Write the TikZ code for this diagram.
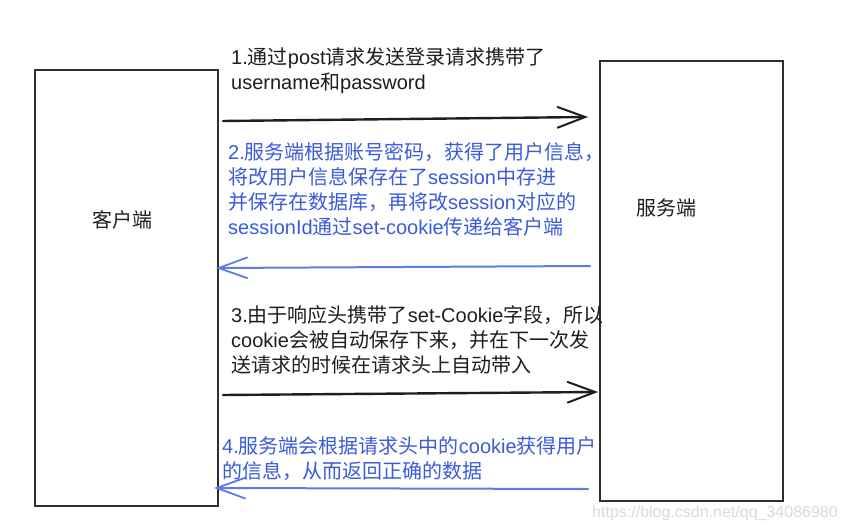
\documentclass[tikz,border=0pt]{standalone}
\usepackage{fontspec}
\setmainfont{Liberation Sans}
\newfontfamily\cjk{Noto Sans CJK SC}
\usetikzlibrary{arrows.meta}
\newcommand\zh[1]{{\cjk #1}}
\definecolor{ink}{HTML}{1E1E1E}
\definecolor{boxline}{HTML}{2E2E2E}
\definecolor{textblue}{HTML}{3B5BDB}
\definecolor{arrowblue}{HTML}{5C7CE6}
\definecolor{wmark}{HTML}{DADADA}
\tikzset{
  box/.style={draw=boxline, line width=1.7pt, inner sep=0pt},
  lbl/.style={font=\fontsize{20}{25}\selectfont\cjk, text=ink, inner sep=0pt},
  txt/.style={anchor=north west, inner sep=0pt, align=left, font=\fontsize{20}{25}\selectfont},
  blackarr/.style={draw=ink, line width=2.4pt, line cap=round,
    -{Straight Barb[length=28pt,width=21pt,line width=2pt]}},
  bluearr/.style={draw=arrowblue, line width=2pt, line cap=round,
    -{Straight Barb[length=29pt,width=21pt,line width=1.8pt]}},
}
\begin{document}
\begin{tikzpicture}[x=1pt,y=-1pt]
\useasboundingbox (0,0) rectangle (846,532);
\fill[white] (0,0) rectangle (846,532);

% boxes
\node[box, minimum width=183pt, minimum height=436pt] (client) at (126.5,288) {};
\node[box, minimum width=183pt, minimum height=440pt] (server) at (691.5,281) {};
\node[lbl] (clientlbl) at (122,220) {客户端};
\node[lbl] (serverlbl) at (666,208) {服务端};

% arrow end points
\coordinate (a1s) at (223,121);
\coordinate (a1e) at (588,117);
\coordinate (a2s) at (590,266);
\coordinate (a2e) at (216,268);
\coordinate (a3s) at (223,395);
\coordinate (a3e) at (598,392);
\coordinate (a4s) at (588,489);
\coordinate (a4e) at (214,488);

\draw[blackarr] (a1s) -- (a1e);
\draw[bluearr] (a2s) -- (a2e);
\draw[blackarr] (a3s) -- (a3e);
\draw[bluearr] (a4s) -- (a4e);

% texts
\node[txt, text=ink] (t1) at (231,46) {\rule{0pt}{18pt}1.\zh{通过}post\zh{请求发送登录请求携带了}\\
username\zh{和}password};

\node[txt, text=textblue] (t2) at (228,141) {\rule{0pt}{18pt}2.\zh{服务端根据账号密码，获得了用户信息，}\\
\zh{将改用户信息保存在了}session\zh{中存进}\\
\zh{并保存在数据库，再将改}session\zh{对应的}\\
sessionId\zh{通过}set-cookie\zh{传递给客户端}};

\node[txt, text=ink] (t3) at (231,304) {\rule{0pt}{18pt}3.\zh{由于响应头携带了}set-Cookie\zh{字段，所以}\\
cookie\zh{会被自动保存下来，并在下一次发}\\
\zh{送请求的时候在请求头上自动带入}};

\node[txt, text=textblue] (t4) at (222,435) {\rule{0pt}{18pt}4.\zh{服务端会根据请求头中的}cookie\zh{获得用户}\\
\zh{的信息，从而返回正确的数据}};

\node[font=\fontsize{16}{19}\selectfont, text=wmark, inner sep=0pt] (wm) at (715,513) {https://blog.csdn.net/qq\_34086980};
\end{tikzpicture}
\end{document}
